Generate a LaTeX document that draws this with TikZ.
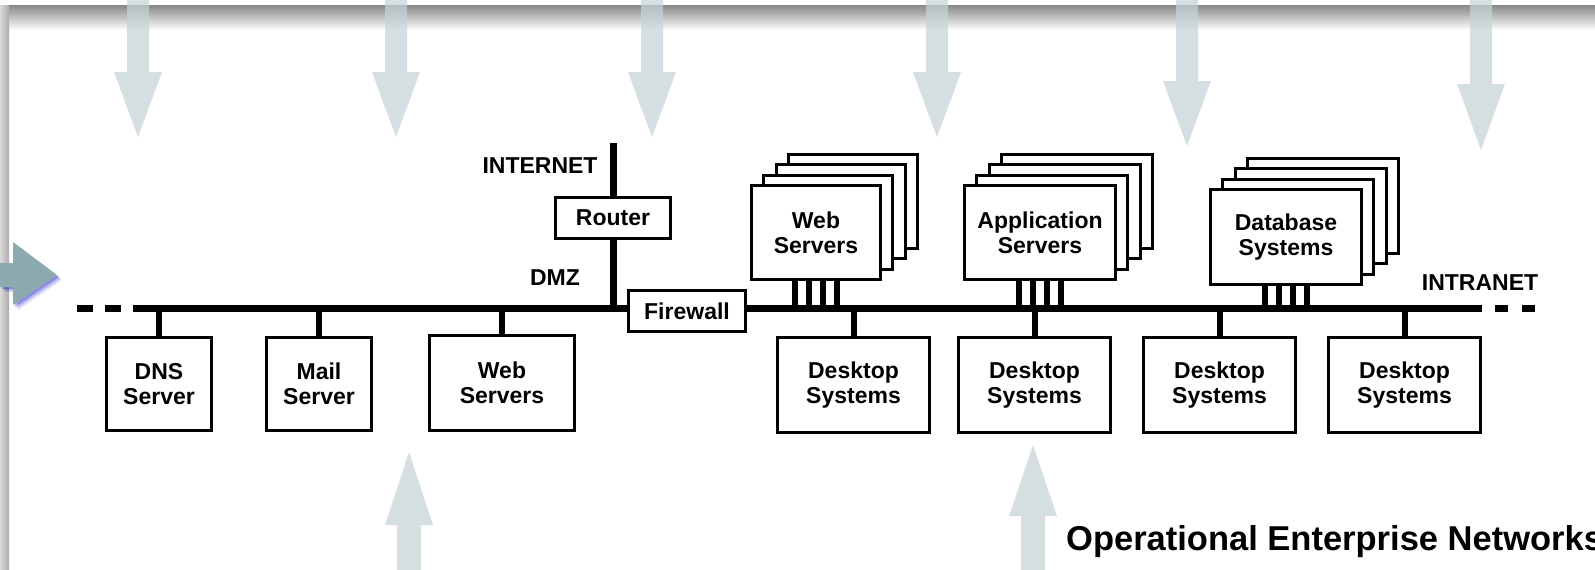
\documentclass[tikz,border=0pt]{standalone}
\usepackage{fontspec}
\setmainfont{Liberation Sans}
\usetikzlibrary{shadows,calc}

\definecolor{flowgray}{RGB}{198,212,216}
\definecolor{flowteal}{RGB}{140,170,175}
\definecolor{rimgray}{RGB}{135,135,135}
\newcommand{\netfont}{\fontsize{23}{25}\selectfont\bfseries}

\begin{document}
\begin{tikzpicture}[
     % define styles
     x=1pt, y=-1pt,
     box/.style={
         draw, line width=3pt, fill=white,
         align=center, font=\netfont, inner sep=0pt
     },
     % three copies stacked behind the front box
     stack/.style={
         general shadow={shadow xshift=37.2pt, shadow yshift=31.2pt,
                         draw, line width=3pt, fill=white},
         general shadow={shadow xshift=24.8pt, shadow yshift=20.8pt,
                         draw, line width=3pt, fill=white},
         general shadow={shadow xshift=12.4pt, shadow yshift=10.4pt,
                         draw, line width=3pt, fill=white}
     },
     tag/.style={font=\netfont, inner sep=0pt},
     heading/.style={font=\fontsize{34.5}{38}\selectfont\bfseries, inner sep=0pt},
     bus/.style={line width=7pt},
     drop/.style={line width=6pt},
     port/.style={line width=5.5pt},
     flow/.style={fill=flowgray, fill opacity=0.72}
]
\clip (0,0) rectangle (1595,570);
\fill[white] (0,0) rectangle (1595,570);

% frame rim at top and left
\shade[top color=rimgray, bottom color=white] (0,5) rectangle (1595,30);
\shade[left color=gray!30, right color=gray!65] (0,5) rectangle (9,570);

% arrows coming in from above
\foreach \x/\b/\t in {138/72/137, 396/72/137, 652/72/137, 937/72/137,
                      1187/81/146, 1481/84/150}
    \fill[flow] ({\x-11},0) -- ({\x-11},\b) -- ({\x-24},\b) -- (\x,\t)
        -- ({\x+24},\b) -- ({\x+11},\b) -- ({\x+11},0) -- cycle;

% arrows coming in from below
\foreach \x/\t/\b in {409/452/525, 1033/445/516}
    \fill[flow] ({\x-12},570) -- ({\x-12},\b) -- ({\x-24},\b) -- (\x,\t)
        -- ({\x+24},\b) -- ({\x+12},\b) -- ({\x+12},570) -- cycle;

% arrow from the left with its blue glow
\foreach \s/\o in {5/0.12, 3.5/0.16, 2/0.25}
    \fill[blue!75!black, opacity=\o, shift={(\s,\s)}]
        (0,263) -- (13,263) -- (13,242) -- (57,275) -- (13,305)
        -- (13,287) -- (0,287) -- cycle;
\fill[flowteal] (0,263) -- (13,263) -- (13,242) -- (57,275) -- (13,305)
    -- (13,287) -- (0,287) -- cycle;

% backbone
\coordinate (lanW) at (134,308);
\coordinate (lanE) at (1482,308);
\coordinate (inet) at (613,143);
\draw[bus] (lanW) -- (lanE);
\draw[bus, dash pattern=on 16pt off 12pt] ($(lanW)+(-57,0)$) -- (lanW);
\draw[bus, dash pattern=on 13pt off 14pt] ($(lanE)+(13,0)$) -- ($(lanE)+(53,0)$);

% DMZ hosts
\node[box, minimum width=105pt, minimum height=93pt] (dns) at (159,384) {DNS\\Server};
\node[box, minimum width=105pt, minimum height=93pt] (mail) at (319,384) {Mail\\Server};
\node[box, minimum width=145pt, minimum height=95pt] (webdmz) at (502,383) {Web\\Servers};

% perimeter
\node[box, minimum width=115pt, minimum height=41pt] (router) at (613,218) {Router};
\node[box, minimum width=117pt, minimum height=41pt] (firewall) at (687,311) {Firewall};

% server farms
\node[box, stack, minimum width=129pt, minimum height=94pt] (websrv) at (816,232.5) {Web\\Servers};
\node[box, stack, minimum width=151pt, minimum height=94pt] (appsrv) at (1040,232.5) {Application\\Servers};
\node[box, stack, minimum width=151pt, minimum height=95pt] (dbsys) at (1286,237) {Database\\Systems};

% intranet desktops
\foreach \n/\x in {1/853.5, 2/1034.5, 3/1219.5, 4/1404.5}
    \node[box, minimum width=152pt, minimum height=95pt] (desk\n) at (\x,385) {Desktop\\Systems};

% labels
\node[tag] (internet) at (540,166) {INTERNET};
\node[tag] (dmz) at (555,278) {DMZ};
\node[tag] (intranet) at (1480,283) {INTRANET};
\node[heading, anchor=base west] (caption) at (1066,550) {Operational Enterprise Networks};

% uplink through the router
\draw[bus] (inet) -- (router);
\draw[bus] (router) -- (router |- lanW);

% drops from the backbone
\foreach \n in {dns,mail,webdmz,desk1,desk2,desk3,desk4}
    \draw[drop] (\n.north) -- (\n.north |- lanW);

% four ports under each server farm
\foreach \n in {websrv,appsrv,dbsys} {
    \foreach \dx in {-21,-7,7,21}
        \draw[port] ($(\n.south)+(\dx,0)$) -- ($(\n.south |- lanW)+(\dx,0)$);
}
\end{tikzpicture}
\end{document}
